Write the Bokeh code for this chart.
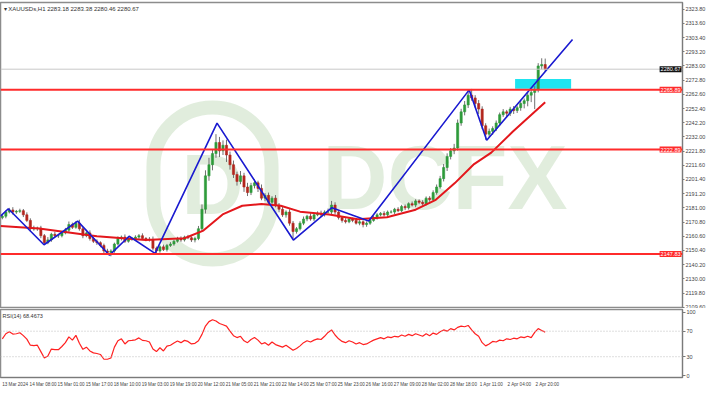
from bokeh.plotting import figure
from bokeh.models import (ColumnDataSource, Span, Label, FixedTicker, Range1d,
                          BoxAnnotation, NumeralTickFormatter)
from bokeh.layouts import column
from bokeh.embed import file_html
from bokeh.resources import INLINE

# ---------------- data ----------------
title_text = "\u25be XAUUSDs,H1  2283.18 2283.38 2280.46 2280.67"
rsi_title = "RSI(14) 68.4673"

first_open = 2174.0
closes = [
    2175, 2178, 2179.5, 2178, 2178.5, 2179, 2176, 2172, 2166, 2166,
    2166.5, 2161, 2156, 2158, 2162, 2161, 2161, 2163, 2165, 2169,
    2167, 2170, 2166, 2161, 2163, 2159, 2157, 2156, 2154, 2150,
    2149, 2150, 2155, 2159, 2160, 2157, 2159, 2159, 2160, 2161,
    2159, 2158.5, 2158, 2152, 2150, 2153, 2151, 2154, 2155, 2157,
    2159, 2158, 2160, 2159.5, 2158, 2159, 2166, 2180, 2204, 2212,
    2220, 2228, 2222, 2226, 2219, 2212, 2205, 2200, 2204, 2196,
    2192, 2197, 2199, 2195, 2188, 2190, 2185, 2188, 2183, 2180,
    2176, 2178, 2170, 2164, 2166, 2170, 2173, 2175, 2173, 2176,
    2177, 2176, 2178, 2178, 2183, 2178, 2174, 2172, 2171, 2173,
    2172, 2170, 2171, 2169, 2170, 2172, 2174, 2176, 2177, 2176,
    2178, 2178, 2180, 2179, 2182, 2181, 2184, 2183, 2186, 2185,
    2184, 2188, 2187, 2192, 2196, 2202, 2210, 2218, 2222, 2224,
    2242, 2250, 2255, 2262, 2260, 2256, 2252, 2240, 2234, 2236,
    2238, 2242, 2248, 2250, 2249, 2252, 2251, 2253, 2256, 2258,
    2262, 2264, 2266, 2283, 2284, 2280.67,
]
up_wicks = [
    1.5, 1.2, 1.5, 2.0, 1.0, 1.4, 1.2, 1.8, 1.5, 2.2,
    1.0, 1.6, 1.2, 2.0, 1.1, 1.8, 1.3, 1.0, 1.6, 2.2,
    1.4, 1.5, 2.5, 1.2, 1.0, 1.8, 1.1, 1.4, 1.0, 1.3,
    1.6, 1.2, 1.0, 1.5, 1.1, 1.9, 1.4, 1.0, 1.3, 1.2,
    1.7, 1.0, 1.5, 2.4, 1.2, 1.0, 1.6, 1.1, 1.4, 1.0,
    1.2, 1.5, 1.0, 1.6, 1.1, 1.3, 2.0, 3.5, 4.0, 5.0,
    3.0, 6.0, 4.0, 3.5, 4.0, 2.5, 3.0, 2.0, 3.5, 2.2,
    3.0, 2.0, 2.5, 1.5, 2.8, 1.6, 2.0, 1.4, 2.2, 1.5,
    1.8, 1.2, 2.0, 1.6, 1.2, 1.4, 1.8, 1.0, 2.2, 1.3,
    1.5, 2.0, 1.2, 2.5, 3.0, 2.0, 1.4, 1.0, 1.6, 1.2,
    1.0, 1.5, 1.2, 1.1, 1.3, 1.0, 1.4, 1.2, 1.0, 1.6,
    1.1, 1.3, 1.0, 1.5, 1.2, 1.4, 1.0, 1.6, 1.2, 1.1,
    1.5, 1.2, 1.4, 1.6, 1.8, 2.0, 2.5, 2.2, 2.0, 3.0,
    2.5, 2.2, 2.8, 3.8, 4.5, 2.0, 2.5, 2.0, 1.8, 2.0,
    1.6, 1.8, 1.5, 2.0, 1.4, 1.6, 2.2, 1.5, 1.8, 1.6,
    2.0, 1.8, 2.5, 2.0, 4.5, 4.3,
]
dn_wicks = [
    1.2, 1.5, 1.0, 1.8, 1.3, 1.1, 1.6, 1.2, 2.0, 1.4,
    1.5, 1.8, 1.5, 1.1, 1.4, 1.0, 1.6, 1.2, 1.0, 1.3,
    1.2, 1.0, 1.4, 1.8, 1.1, 1.5, 1.2, 1.6, 1.3, 2.0,
    1.8, 2.8, 1.2, 1.0, 1.4, 1.2, 1.0, 1.6, 1.1, 1.3,
    1.0, 1.5, 1.2, 1.6, 1.7, 1.2, 1.0, 1.4, 1.1, 1.2,
    1.0, 1.4, 1.2, 1.0, 1.5, 1.8, 1.2, 2.0, 3.0, 3.5,
    4.0, 3.0, 4.5, 3.0, 5.0, 3.5, 2.5, 3.0, 2.0, 3.5,
    2.5, 1.8, 2.0, 2.6, 1.5, 2.2, 1.8, 2.0, 1.6, 2.2,
    1.5, 2.0, 1.8, 5.0, 1.5, 1.2, 1.4, 1.6, 1.2, 1.5,
    1.0, 1.4, 1.2, 1.0, 1.5, 1.8, 1.4, 1.6, 1.2, 1.0,
    1.3, 1.0, 1.5, 2.0, 1.6, 1.2, 1.0, 1.4, 1.1, 1.3,
    1.2, 1.0, 1.4, 1.1, 1.0, 1.6, 1.2, 1.0, 1.5, 1.3,
    1.4, 1.2, 1.6, 1.0, 1.5, 1.2, 2.0, 2.5, 2.2, 2.4,
    1.8, 2.0, 2.5, 2.2, 2.0, 3.0, 3.5, 2.5, 4.0, 2.0,
    2.5, 1.8, 2.2, 1.6, 3.0, 2.0, 2.5, 1.8, 2.2, 3.5,
    4.0, 5.0, 12.0, 2.0, 2.5, 2.0,
]
rsi_values = [
    58, 66, 69, 65.5, 66, 67.5, 63, 57.5, 48, 47.5,
    48, 38, 28, 31, 42, 41, 41, 46, 52, 61,
    56, 63.5, 51, 41.5, 45, 39, 36, 35, 33.5, 26,
    26, 28, 45, 55, 58, 50, 55, 55.6, 56.5, 59.5,
    55.6, 55, 53, 42, 38, 44, 39, 46.5, 48, 51.5,
    54.5, 52, 55.6, 54, 50, 51, 55, 65, 78, 85,
    88, 86, 82, 80, 78, 70, 63, 60, 62, 55,
    52, 57, 60, 56, 50, 52, 48, 53, 49, 47,
    45, 48, 44, 40, 43, 47, 52, 55, 53, 56,
    58, 57, 62, 68, 72, 64, 58, 54, 52, 55,
    53, 50, 52, 49, 50, 53, 56, 58, 60, 58,
    61, 60, 62, 61, 64, 62, 65, 63, 66, 64,
    62, 66, 63, 67, 65, 69, 72, 70, 74, 72,
    76, 78, 77, 79, 72, 66, 62, 52, 47, 50,
    54, 53, 56, 55, 58, 57, 59, 58, 61, 60,
    62, 60, 68, 74, 71, 68.47,
]
ma_idx = [-0.5, 10.5, 27, 40.9, 52, 57.4, 62.9, 68.5, 74, 79.5, 85, 93.3,
          101.5, 109.8, 118, 123.6, 129.2, 134.7, 139.6, 145.7, 155]
ma_val = [2168.0, 2166.1, 2160.6, 2157.9, 2159.2, 2164.7, 2176.3, 2182.5,
          2183.8, 2182.5, 2178.3, 2176.3, 2172.9, 2174.3, 2179.7, 2186.5,
          2198.8, 2212.5, 2220.7, 2235.7, 2256.9]
zig_idx = [-0.52, 1.7, 11.9, 21.5, 30.6, 36.2, 43.6, 61.3, 83.1, 94.1,
           104.6, 133.3, 138.3, 162.8]
zig_val = [2175.0, 2180.4, 2154.5, 2171.5, 2147.0, 2160.6, 2148.3, 2241.9,
           2157.9, 2181.1, 2171.5, 2265.8, 2229.6, 2302.0]
zone_idx = [146.4, 162.4]
zone_val = [2266.6, 2273.7]
sr_levels = [2265.89, 2222.89, 2147.83]
last_price = 2280.67

y_ticks = [2109.60, 2119.80, 2130.00, 2140.20, 2150.40, 2160.60, 2170.80,
           2181.00, 2191.20, 2201.40, 2211.60, 2221.80, 2232.00, 2242.20,
           2252.40, 2262.60, 2272.80, 2283.00, 2293.20, 2303.40, 2313.60,
           2323.80]
rsi_ticks = [0, 30, 70, 100]
rsi_levels = [70, 30]
x_labels = ["13 Mar 2024", "14 Mar 08:00", "15 Mar 01:00", "15 Mar 17:00",
            "18 Mar 10:00", "19 Mar 03:00", "19 Mar 19:00", "20 Mar 12:00",
            "21 Mar 05:00", "21 Mar 21:00", "22 Mar 14:00", "25 Mar 07:00",
            "25 Mar 23:00", "26 Mar 16:00", "27 Mar 09:00", "28 Mar 02:00",
            "28 Mar 18:00", "1 Apr 11:00", "2 Apr 04:00", "2 Apr 20:00"]
bars_per_label = 8  # candles between two time labels

# ---------------- derived ----------------
idx = list(range(len(closes)))
opens = [first_open] + closes[:-1]
highs = [max(o, c) + u for o, c, u in zip(opens, closes, up_wicks)]
lows = [min(o, c) - d for o, c, d in zip(opens, closes, dn_wicks)]
BULL, BEAR = "#2e9b3a", "#b3261e"
src = ColumnDataSource(dict(
    x=idx, high=highs, low=lows,
    top=[max(o, c) for o, c in zip(opens, closes)],
    bottom=[min(o, c) for o, c in zip(opens, closes)],
    color=[BULL if c >= o else BEAR for o, c in zip(opens, closes)],
))

FONT = "Liberation Sans"
FW = 682
MAIN_H = 305
RSI_H = 68
xr = Range1d(-0.524, 194.2)

main = figure(frame_width=FW, frame_height=MAIN_H, x_range=xr,
              y_range=Range1d(2109.4, 2328.6), y_axis_location="right",
              x_axis_location=None, output_backend="svg",
              toolbar_location=None, min_border_left=0, min_border_right=0,
              min_border_top=2, min_border_bottom=1)
main.grid.visible = False
main.outline_line_color = "#8c8c8c"
main.outline_line_width = 1.5

ax = main.yaxis[0]
ax.ticker = FixedTicker(ticks=y_ticks)
ax.formatter = NumeralTickFormatter(format="0.00")
ax.axis_line_color = "#7a7a7a"
ax.major_tick_line_color = "#7a7a7a"
ax.major_tick_out = 2
ax.major_tick_in = 0
ax.minor_tick_line_color = None
ax.major_label_standoff = 1
ax.major_label_text_font_size = "5.5px"
ax.major_label_text_font = FONT
ax.major_label_text_color = "#444444"

# watermark
wm_color = "#b5d3aa"
main.add_layout(Label(x=212, y=124, x_units="screen", y_units="screen",
                      text="D", text_font=FONT, text_font_size="86px",
                      text_font_style="bold", text_align="center",
                      text_baseline="middle", text_color=wm_color,
                      text_alpha=0.4, border_line_color=wm_color,
                      border_line_alpha=0.4, border_line_width=14,
                      border_radius=75, padding=28, level="underlay"))
main.add_layout(Label(x=322, y=80, x_units="screen", y_units="screen",
                      text="DCFX", text_font=FONT,
                      text_font_size="90px", text_font_style="bold",
                      text_color=wm_color, text_alpha=0.4, level="underlay"))

main.add_layout(BoxAnnotation(left=zone_idx[0], right=zone_idx[1],
                              bottom=zone_val[0], top=zone_val[1],
                              fill_color="#1fe4f0", fill_alpha=1.0,
                              line_alpha=0, level="underlay"))

main.add_layout(Span(location=last_price, dimension="width",
                     line_color="#c8c8c8", line_width=1))
for lvl in sr_levels:
    main.add_layout(Span(location=lvl, dimension="width",
                         line_color="#ff2b2b", line_width=2))

main.segment(x0="x", y0="low", x1="x", y1="high", source=src,
             line_color="#707070", line_width=1)
main.vbar(x="x", width=0.62, top="top", bottom="bottom", source=src,
          fill_color="color", line_color="color", line_width=0.6)

main.line(ma_idx, ma_val, line_color="#e3171c", line_width=2)
main.line(zig_idx, zig_val, line_color="#1a1ad0", line_width=1.6)

# price tags at the right edge of the price panel
for lvl in sr_levels:
    main.add_layout(Label(x=FW - 1, y=lvl, x_units="screen", y_units="data",
                          text=f"{lvl:.2f}", text_font=FONT,
                          text_font_size="5.5px", text_color="white",
                          text_align="right", text_baseline="middle",
                          background_fill_color="#ff2b2b",
                          padding=1, level="overlay"))
main.add_layout(Label(x=FW - 1, y=last_price, x_units="screen", y_units="data",
                      text=f"{last_price:.2f}", text_font=FONT,
                      text_font_size="5.5px", text_color="white",
                      text_align="right", text_baseline="middle",
                      background_fill_color="#111111",
                      padding=1, level="overlay"))

main.add_layout(Label(x=3, y=MAIN_H - 9, x_units="screen", y_units="screen",
                      text=title_text, text_font=FONT, text_font_size="6px",
                      text_color="#333333"))

# ---------------- RSI ----------------
rsi_fig = figure(frame_width=FW, frame_height=RSI_H, x_range=xr,
                 y_range=Range1d(-2.6, 104), y_axis_location="right",
                 output_backend="svg", toolbar_location=None,
                 min_border_left=0, min_border_right=0, min_border_top=1,
                 min_border_bottom=0)
rsi_fig.grid.visible = False
rsi_fig.outline_line_color = "#8c8c8c"
rsi_fig.outline_line_width = 1.5
for lvl in rsi_levels:
    rsi_fig.add_layout(Span(location=lvl, dimension="width",
                            line_color="#bdbdbd", line_width=1,
                            line_dash="1 2"))
rsi_fig.line(idx, rsi_values, line_color="#ff2020", line_width=1.2)
rsi_fig.add_layout(Label(x=2, y=RSI_H - 9, x_units="screen", y_units="screen",
                         text=rsi_title, text_font=FONT, text_font_size="5.5px",
                         text_color="#333333"))

ry = rsi_fig.yaxis[0]
ry.ticker = FixedTicker(ticks=rsi_ticks)
rx = rsi_fig.xaxis[0]
# labels sit just to the right of their time position (left aligned look)
label_shift = 3.9
tick_pos = [bars_per_label * i - 0.25 + label_shift for i in range(len(x_labels))]
rx.ticker = FixedTicker(ticks=tick_pos)
rx.major_label_overrides = {p: l for p, l in zip(tick_pos, x_labels)}
for a in (ry, rx):
    a.axis_line_color = "#7a7a7a"
    a.major_tick_line_color = "#7a7a7a"
    a.major_tick_out = 3
    a.major_tick_in = 0
    a.minor_tick_line_color = None
    a.major_label_standoff = 1
    a.major_label_text_font_size = "5.5px"
    a.major_label_text_font = FONT
    a.major_label_text_color = "#444444"
rx.major_label_text_font_size = "4.6px"
rx.major_tick_line_color = None

layout = column(main, rsi_fig, spacing=0)
open("out.html", "w").write(file_html(layout, INLINE))
